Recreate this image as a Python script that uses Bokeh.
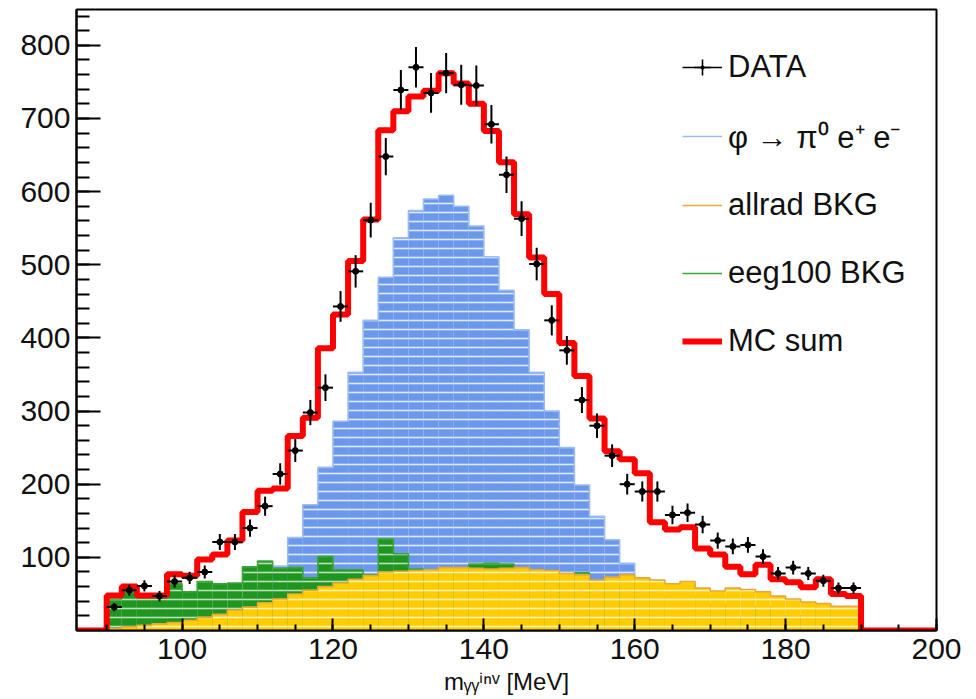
import numpy as np
from bokeh.plotting import figure
from bokeh.models import Range1d, FixedTicker, Legend, LegendItem
from bokeh.embed import file_html
from bokeh.resources import INLINE

# ---- data (2 MeV bins, lower edges 90 ... 188) ----
bin_lo = list(range(90, 190, 2))
bin_w = 2

data_counts = [32, 55, 61, 47, 67, 72, 80, 121, 121, 140,
               170, 214, 246, 298, 332, 443, 491, 561, 648, 739,
               770, 735, 762, 746, 745, 692, 623, 563, 501, 424,
               383, 315, 280, 239, 200, 190, 190, 158, 161, 145,
               123, 115, 117, 101, 78, 86, 78, 68, 58, 58]

mc_sum = [48, 60, 48, 48, 77, 75, 97, 104, 123, 162,
          191, 194, 266, 291, 386, 432, 505, 562, 684, 710,
          730, 738, 762, 748, 720, 683, 640, 569, 510, 460,
          393, 348, 290, 245, 234, 215, 148, 138, 141, 112,
          104, 87, 77, 90, 70, 66, 59, 70, 50, 47]

signal = [1, 1, 2, 2, 2, 4, 8, 14, 24, 40,
          58, 88, 127, 172, 223, 286, 353, 424, 483, 537,
          574, 590, 595, 580, 553, 511, 465, 411, 353, 300,
          250, 199, 156, 124, 92, 70, 45, 38, 28, 20,
          15, 11, 8, 5, 4, 3, 2, 1, 1, 1]

allrad = [3, 5, 7, 9, 11, 14, 18, 22, 28, 32,
          38, 43, 50, 55, 60, 65, 70, 75, 80, 81,
          82, 83, 86, 86, 85, 84, 85, 86, 83, 82,
          78, 76, 69, 73, 76, 72, 69, 64, 67, 58,
          54, 58, 56, 53, 47, 43, 39, 37, 33, 33]

eeg100 = [43, 53, 46, 50, 64, 53, 67, 64, 65, 87,
          95, 85, 86, 72, 101, 83, 83, 76, 125, 105,
          84, 79, 80, 81, 91, 92, 91, 80, 75, 72,
          70, 79, 65, 55, 60, 70, 33, 36, 46, 33,
          35, 18, 13, 32, 19, 20, 18, 32, 16, 13]

x_major = [100, 120, 140, 160, 180, 200]
y_major = [100, 200, 300, 400, 500, 600, 700, 800]
x_min, x_max = 86, 200

# ---- derived geometry ----
lo = np.array(bin_lo, dtype=float)
hi = lo + bin_w
ctr = lo + bin_w / 2
dat = np.array(data_counts, dtype=float)
err = np.sqrt(dat)

p = figure(width=968, height=697, x_range=Range1d(x_min, x_max), y_range=Range1d(0, 849),
           output_backend="svg", toolbar_location=None,
           min_border_left=76, min_border_right=32, min_border_top=9, min_border_bottom=62)
p.grid.visible = False
p.outline_line_color = "black"
p.outline_line_width = 2
p.background_fill_color = "white"
p.border_fill_color = "white"


def hist(vals, fill, edge, hatch_alpha):
    p.quad(left=lo, right=hi, top=vals, bottom=0, fill_color=fill, line_alpha=0,
           hatch_pattern="horizontal_line", hatch_color="white", hatch_scale=9,
           hatch_weight=1.6, hatch_alpha=hatch_alpha)
    xs = [bin_lo[0]] + bin_lo + [bin_lo[-1] + bin_w]
    ys = [0] + list(vals) + [0]
    return p.step(x=xs, y=ys, mode="after", line_color=edge, line_width=1.6)


sig_r = hist(signal, "#6b98ea", "#9dbcf2", 0.8)
eeg_r = hist(eeg100, "#1f961f", "#3aa63a", 0.7)
all_r = hist(allrad, "#ffcc00", "#e8a838", 0.75)

# MC sum step, including the empty bins outside 90-190
n_left = len(range(x_min, bin_lo[0], bin_w))
n_right = len(range(bin_lo[-1] + bin_w, x_max + 1, bin_w))
mc_x = list(range(x_min, bin_lo[0], bin_w)) + bin_lo + list(range(bin_lo[-1] + bin_w, x_max + 1, bin_w))
mc_y = [0] * n_left + mc_sum + [0] * n_right
mc_r = p.step(x=mc_x, y=mc_y, mode="after", line_color="#ff0000", line_width=6)

# data points with error bars
p.segment(x0=ctr, y0=dat - err, x1=ctr, y1=dat + err, line_color="black", line_width=2)
p.segment(x0=lo, y0=dat, x1=hi, y1=dat, line_color="black", line_width=2)
p.scatter(x=ctr, y=dat, marker="circle", size=6, fill_color="black", line_color="black")

# hidden copies used only to draw the DATA legend symbol
leg_h = p.segment(x0=lo, y0=dat, x1=hi, y1=dat, line_color="black", line_width=1.6, visible=False)
leg_c = p.scatter(x=ctr, y=dat, marker="cross", line_color="black", line_width=1.6, visible=False)
leg_d = p.scatter(x=ctr, y=dat, marker="dot", line_color="black", fill_color="black", visible=False)

legend = Legend(items=[
    LegendItem(label="DATA", renderers=[leg_h, leg_c, leg_d]),
    LegendItem(label="\u03c6 \u2192 \u03c0\u2070 e\u207a e\u207b", renderers=[sig_r]),
    LegendItem(label="allrad BKG", renderers=[all_r]),
    LegendItem(label="eeg100 BKG", renderers=[eeg_r]),
    LegendItem(label="MC sum", renderers=[mc_r]),
], location=(606, 269), glyph_width=40, glyph_height=40, label_height=40, spacing=28,
    padding=0, label_standoff=6, label_text_font="Liberation Sans", label_text_font_size="31px",
    label_text_color="#111111", border_line_alpha=0, background_fill_alpha=0)
p.add_layout(legend)

# axes
for ax in (p.xaxis[0], p.yaxis[0]):
    ax.axis_line_width = 2
    ax.major_tick_line_width = 2
    ax.minor_tick_line_width = 2
    ax.major_tick_out = 0
    ax.minor_tick_out = 0
    ax.major_label_text_font = "Liberation Sans"
    ax.major_label_text_font_size = "30px"
    ax.major_label_text_color = "#111111"

p.yaxis.ticker = FixedTicker(ticks=y_major, minor_ticks=list(range(20, 849, 20)))
p.yaxis.major_tick_in = 24
p.yaxis.minor_tick_in = 13
p.yaxis.major_label_standoff = 6

p.xaxis.ticker = FixedTicker(ticks=x_major, minor_ticks=list(range(90, 201, 5)))
p.xaxis.major_tick_in = 12
p.xaxis.minor_tick_in = 6
p.xaxis.major_label_standoff = 8
p.xaxis.axis_label = "m\u1d67\u1d67\u2071\u207f\u1d5b [MeV]"
p.xaxis.axis_label_text_font = "Liberation Sans"
p.xaxis.axis_label_text_font_size = "24px"
p.xaxis.axis_label_text_font_style = "normal"
p.xaxis.axis_label_text_color = "#111111"
p.xaxis.axis_label_standoff = 6

open("out.html", "w").write(file_html(p, INLINE))
